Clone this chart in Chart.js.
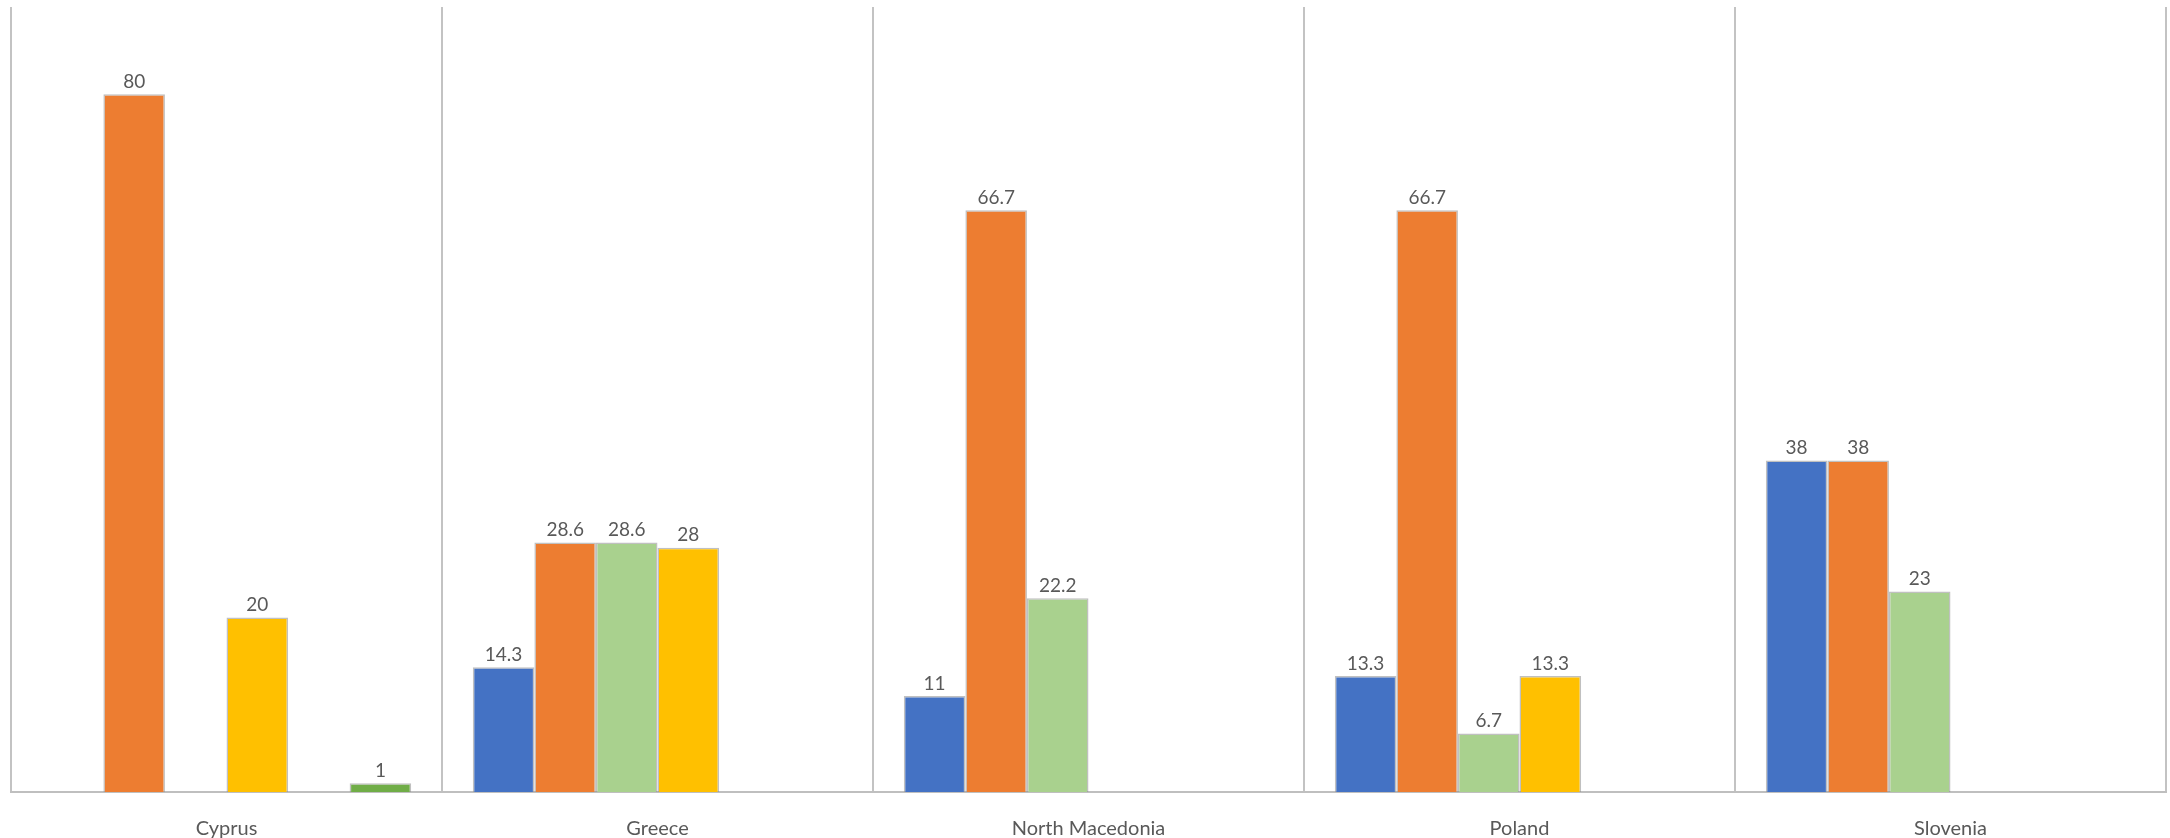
<!DOCTYPE html>
<html lang="en">
<head>
    <meta charset="UTF-8">
    <title>Country chart</title>
    <script src="https://cdn.jsdelivr.net/npm/chart.js"></script>
    <style>
        html, body { margin: 0; padding: 0; background: #fff; }
        #wrap { width: 2170px; height: 838px; }
    </style>
</head>
<body>
    <div id="wrap"><canvas id="countryChart"></canvas></div>

    <script>
        const countries = ['Cyprus', 'Greece', 'North Macedonia', 'Poland', 'Slovenia'];

        const series1 = [null, 14.3, 11, 13.3, 38];
        const series2 = [80, 28.6, 66.7, 66.7, 38];
        const series3 = [null, 28.6, 22.2, 6.7, 23];
        const series4 = [20, 28, null, 13.3, null];
        const series5 = [null, null, null, null, null];
        const series6 = [1, null, null, null, null];

        const colors = ['#4472C4', '#ED7D31', '#A9D18E', '#FFC000', '#5B9BD5', '#70AD47'];
        const seriesData = [series1, series2, series3, series4, series5, series6];

        // draws the value above each bar
        const valueLabels = {
            id: 'valueLabels',
            afterDatasetsDraw(chart) {
                const ctx = chart.ctx;
                ctx.save();
                ctx.font = '19px Lato, "Open Sans", sans-serif';
                ctx.fillStyle = '#595959';
                ctx.textAlign = 'center';
                ctx.textBaseline = 'bottom';
                chart.data.datasets.forEach((ds, i) => {
                    chart.getDatasetMeta(i).data.forEach((bar, j) => {
                        const v = ds.data[j];
                        if (v === null || v === undefined) return;
                        ctx.fillText(String(v), bar.x, bar.y - 3);
                    });
                });
                ctx.restore();
            }
        };

        const ctx = document.getElementById('countryChart').getContext('2d');
        new Chart(ctx, {
            type: 'bar',
            data: {
                labels: countries,
                datasets: seriesData.map((d, i) => ({
                    label: 'Series ' + (i + 1),
                    data: d,
                    backgroundColor: colors[i],
                    borderColor: 'rgba(140,140,140,0.55)',
                    borderWidth: 1.5,
                    categoryPercentage: 0.857,
                    barPercentage: 1
                }))
            },
            options: {
                responsive: true,
                maintainAspectRatio: false,
                animation: false,
                layout: { padding: { left: 11, right: 4, top: 7, bottom: -28 } },
                plugins: {
                    legend: { display: false },
                    tooltip: { enabled: false }
                },
                scales: {
                    x: {
                        grid: {
                            drawTicks: false,
                            lineWidth: 2,
                            color: (c) => c.index === countries.length ? 'rgba(0,0,0,0)' : '#C3C3C3'
                        },
                        border: { color: '#BFBFBF', width: 2 },
                        ticks: {
                            padding: 25,
                            color: '#595959',
                            font: { family: 'Lato, "Open Sans", sans-serif', size: 20 }
                        }
                    },
                    y: {
                        display: false,
                        min: 0,
                        max: 90
                    }
                }
            },
            plugins: [valueLabels]
        });
    </script>
</body>
</html>
